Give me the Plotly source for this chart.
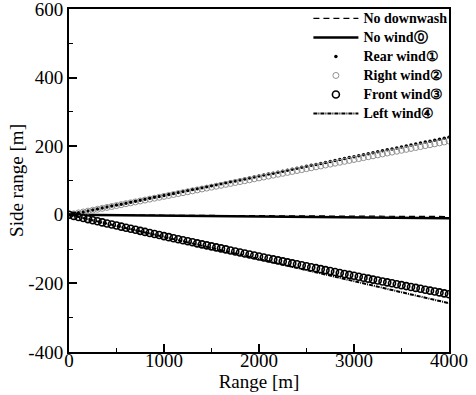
import plotly.graph_objects as go

# ---- data ----
x_line = [0, 500, 1000, 1500, 2000, 2500, 3000, 3500, 4000]
no_downwash = [0, -0.6, -1.2, -1.9, -2.5, -3.1, -3.7, -4.4, -5.0]
no_wind = [0, -1.2, -2.5, -3.7, -5.0, -6.2, -7.5, -8.7, -10.0]
left_wind = [0, -32.5, -64.9, -97.2, -129.4, -161.6, -193.7, -225.7, -257.6]

x_pts = list(range(0, 4001, 50))
rear_wind = [0, 2.8, 5.7, 8.5, 11.3, 14.1, 17.0, 19.8, 22.6, 25.4, 28.3, 31.1, 33.9, 36.7,
             39.6, 42.4, 45.2, 48.0, 50.9, 53.7, 56.5, 59.3, 62.2, 65.0, 67.8, 70.6, 73.5,
             76.3, 79.1, 81.9, 84.8, 87.6, 90.4, 93.2, 96.1, 98.9, 101.7, 104.5, 107.4,
             110.2, 113.0, 115.8, 118.7, 121.5, 124.3, 127.1, 130.0, 132.8, 135.6, 138.4,
             141.3, 144.1, 146.9, 149.7, 152.6, 155.4, 158.2, 161.0, 163.9, 166.7, 169.5,
             172.3, 175.2, 178.0, 180.8, 183.6, 186.5, 189.3, 192.1, 194.9, 197.8, 200.6,
             203.4, 206.2, 209.1, 211.9, 214.7, 217.5, 220.4, 223.2, 226.0]
right_wind = [0, 2.7, 5.4, 8.1, 10.8, 13.4, 16.1, 18.8, 21.5, 24.2, 26.9, 29.6, 32.3, 34.9,
              37.6, 40.3, 43.0, 45.7, 48.4, 51.1, 53.8, 56.4, 59.1, 61.8, 64.5, 67.2, 69.9,
              72.6, 75.3, 77.9, 80.6, 83.3, 86.0, 88.7, 91.4, 94.1, 96.8, 99.4, 102.1,
              104.8, 107.5, 110.2, 112.9, 115.6, 118.3, 120.9, 123.6, 126.3, 129.0, 131.7,
              134.4, 137.1, 139.8, 142.4, 145.1, 147.8, 150.5, 153.2, 155.9, 158.6, 161.3,
              163.9, 166.6, 169.3, 172.0, 174.7, 177.4, 180.1, 182.8, 185.4, 188.1, 190.8,
              193.5, 196.2, 198.9, 201.6, 204.3, 206.9, 209.6, 212.3, 215.0]
front_wind = [0, -3.2, -6.3, -9.5, -12.6, -15.8, -18.9, -22.1, -25.2, -28.3, -31.4, -34.5,
              -37.6, -40.7, -43.8, -46.8, -49.9, -53.0, -56.0, -59.1, -62.1, -65.1, -68.2,
              -71.2, -74.2, -77.2, -80.2, -83.2, -86.2, -89.1, -92.1, -95.1, -98.0, -100.9,
              -103.9, -106.8, -109.8, -112.7, -115.6, -118.5, -121.4, -124.3, -127.2,
              -130.1, -132.9, -135.8, -138.6, -141.5, -144.3, -147.2, -150.0, -152.8,
              -155.6, -158.4, -161.2, -164.0, -166.8, -169.6, -172.4, -175.1, -177.9,
              -180.6, -183.4, -186.1, -188.9, -191.6, -194.3, -197.0, -199.7, -202.4,
              -205.1, -207.8, -210.5, -213.1, -215.8, -218.4, -221.1, -223.7, -226.3,
              -229.0, -231.6]

names = ["No downwash", "No wind⓪", "Rear wind①", "Right wind②", "Front wind③", "Left wind④"]

x_tickvals = [0, 1000, 2000, 3000, 4000]
x_ticktext = ["0", "1000", "2000", "3000", "4000"]
y_tickvals = [-400, -200, 0, 200, 400, 600]
y_ticktext = ["-400", "-200", "0", "200", "400", "600"]

FONT = "Liberation Serif"


def legend_label(s):
    return '<span style="font-size:14px">' + s + '</span>'


fig = go.Figure()
fig.add_trace(go.Scatter(x=x_line, y=no_downwash, mode="lines", name=legend_label(names[0]),
                         line=dict(color="black", width=1.2, dash="6px,4px")))
fig.add_trace(go.Scatter(x=x_line, y=no_wind, mode="lines", name=legend_label(names[1]),
                         line=dict(color="black", width=2.5)))
fig.add_trace(go.Scatter(x=x_pts, y=rear_wind, mode="markers", name=legend_label(names[2]),
                         marker=dict(color="black", size=3.5, symbol="circle")))
fig.add_trace(go.Scatter(x=x_pts, y=right_wind, mode="markers", name=legend_label(names[3]),
                         marker=dict(color="#909090", size=6, symbol="circle-open",
                                     line=dict(color="#909090", width=1))))
fig.add_trace(go.Scatter(x=x_pts, y=front_wind, mode="markers", name=legend_label(names[4]),
                         marker=dict(color="black", size=7, symbol="circle-open",
                                     line=dict(color="black", width=1.6))))
fig.add_trace(go.Scatter(x=x_line, y=left_wind, mode="lines", name=legend_label(names[5]),
                         line=dict(color="black", width=2, dash="4px,1px,1px,1px")))

axis_common = dict(
    showgrid=False, zeroline=False, showline=True, linecolor="black", linewidth=2,
    mirror=True, ticks="inside", ticklen=8, tickwidth=2, tickcolor="black",
    tickfont=dict(family=FONT, size=19, color="black"), automargin=False,
    ticklabeloverflow="allow",
)
fig.update_xaxes(range=[0, 4000], tickmode="array", tickvals=x_tickvals, ticktext=x_ticktext,
                 minor=dict(dtick=500, tick0=0, ticks="inside", ticklen=4, tickwidth=1,
                            tickcolor="black"),
                 ticklabelstandoff=-10,
                 title=dict(text="Range [m]", font=dict(family=FONT, size=19, color="black"),
                            standoff=0),
                 **axis_common)
fig.update_yaxes(range=[-400, 600], tickmode="array", tickvals=y_tickvals, ticktext=y_ticktext,
                 minor=dict(dtick=100, tick0=0, ticks="inside", ticklen=4, tickwidth=1,
                            tickcolor="black"),
                 title=dict(text="Side range [m]", font=dict(family=FONT, size=19, color="black"),
                            standoff=0),
                 **axis_common)

fig.update_layout(
    width=476, height=395,
    margin=dict(l=69, r=27, t=9, b=43, autoexpand=False),
    paper_bgcolor="white", plot_bgcolor="white",
    showlegend=True,
    legend=dict(x=0.63, y=0.99, xanchor="left", yanchor="top", yref="container",
                bgcolor="rgba(255,255,255,0)", borderwidth=0,
                font=dict(family=FONT, size=10.6, color="black", weight="bold"),
                tracegroupgap=0, itemwidth=45),
)

fig.write_html("out.html", config={"displayModeBar": False},
               post_script="document.body.style.margin='0';")
